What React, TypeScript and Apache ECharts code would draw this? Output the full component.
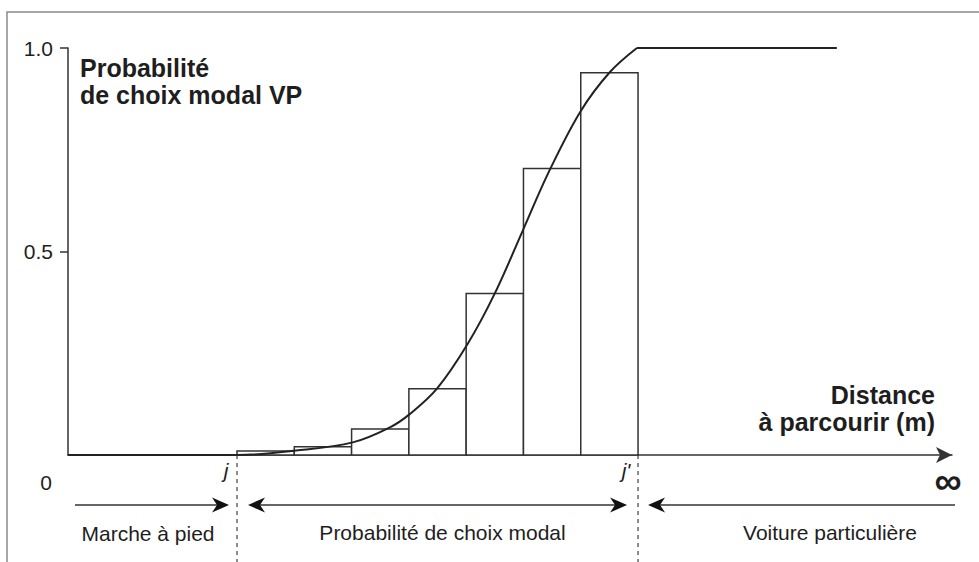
import React, { useEffect, useRef } from "react";
import * as echarts from "echarts";

// ---- data ----
const X_MAX = 15.43; // distance axis extent (arbitrary units, ∞ at the end)
const J = 2.95; // threshold j
const J_PRIME = 9.95; // threshold j'
const BIN_WIDTH = 1;
const barValues = [0.01, 0.02, 0.064, 0.163, 0.397, 0.704, 0.939];
const curveX = [0, 2.95, 3.98, 4.97, 5.62, 5.97, 6.44, 6.98, 7.45, 7.94, 8.38, 8.94, 9.46, 9.93];
const curveY = [0, 0, 0.011, 0.031, 0.068, 0.101, 0.163, 0.274, 0.397, 0.552, 0.692, 0.843, 0.941, 1.0];
const plateauX = [9.93, 13.42];
const plateauY = [1, 1];
const yTickValues = [0.5, 1.0];
const yTickLabels = ["0.5", "1.0"];
const zoneLabels = ["Marche à pied", "Probabilité de choix modal", "Voiture particulière"];
const yTitle = ["Probabilité", "de choix modal VP"];
const xTitle = ["Distance", "à parcourir (m)"];

const FONT = '"Liberation Sans", Arial, Helvetica, sans-serif';
const INK = "#1e1e1e";

export default function App() {
  const ref = useRef<HTMLDivElement>(null);

  useEffect(() => {
    document.body.style.margin = "0";
    if (!ref.current) return;
    const chart = echarts.init(ref.current, undefined, { renderer: "svg" });

    const bars = barValues.map((v, i) => [J + i * BIN_WIDTH, J + (i + 1) * BIN_WIDTH, v]);

    chart.setOption({
      animation: false,
      grid: { left: 68, right: 27, top: 48, bottom: 107, containLabel: false },
      xAxis: {
        type: "value",
        min: 0,
        max: X_MAX,
        axisLine: {
          show: true,
          symbol: ["none", "arrow"],
          symbolSize: [12, 16],
          lineStyle: { color: "#333", width: 1.5 },
        },
        axisTick: { show: false },
        axisLabel: { show: false },
        splitLine: { show: false },
      },
      yAxis: {
        type: "value",
        min: 0,
        max: 1,
        interval: 0.5,
        axisLine: { show: true, lineStyle: { color: "#333", width: 1.5 } },
        axisTick: {
          show: true,
          length: 8,
          customValues: yTickValues,
          lineStyle: { color: "#333", width: 1.5 },
        },
        axisLabel: {
          show: true,
          customValues: yTickValues,
          margin: 15,
          fontSize: 21,
          fontFamily: FONT,
          color: INK,
          formatter: (v: number) => {
            const i = yTickValues.findIndex((t) => Math.abs(t - v) < 1e-9);
            return i >= 0 ? yTickLabels[i] : "";
          },
        },
        splitLine: { show: false },
      },
      series: [
        {
          type: "custom",
          data: bars,
          encode: { x: [0, 1], y: 2 },
          z: 2,
          renderItem: (params: any, api: any) => {
            const x0 = api.value(0);
            const x1 = api.value(1);
            const v = api.value(2);
            const p0 = api.coord([x0, v]);
            const p1 = api.coord([x1, 0]);
            return {
              type: "rect",
              shape: { x: p0[0], y: p0[1], width: p1[0] - p0[0], height: p1[1] - p0[1] },
              style: { fill: "#fff", stroke: "#333", lineWidth: 1.5 },
            };
          },
        },
        {
          type: "line",
          data: curveX.map((x, i) => [x, curveY[i]]),
          smooth: 0.35,
          showSymbol: false,
          z: 3,
          lineStyle: { color: "#222", width: 2 },
        },
        {
          type: "line",
          data: plateauX.map((x, i) => [x, plateauY[i]]),
          showSymbol: false,
          z: 3,
          lineStyle: { color: "#222", width: 2 },
        },
      ],
    });

    const toPx = (x: number, y: number) => chart.convertToPixel({ gridIndex: 0 }, [x, y]) as number[];
    const origin = toPx(0, 0);
    const jPx = toPx(J, 0)[0];
    const jpPx = toPx(J_PRIME, 0)[0];
    const endPx = toPx(X_MAX, 0)[0];
    const axisY = origin[1];
    const arrowY = axisY + 50;
    const lineStyle = { stroke: "#333", lineWidth: 1.5 };

    const head = (tip: number, y: number, dir: 1 | -1) => ({
      type: "polygon",
      shape: {
        points: [
          [tip, y],
          [tip - dir * 17, y - 7.5],
          [tip - dir * 12, y],
          [tip - dir * 17, y + 7.5],
        ],
      },
      style: { fill: "#111", stroke: "none" },
      silent: true,
    });
    const hline = (x1: number, x2: number, y: number) => ({
      type: "line",
      shape: { x1, y1: y, x2, y2: y },
      style: lineStyle,
      silent: true,
    });
    const txt = (
      text: string,
      x: number,
      y: number,
      opts: {
        size?: number;
        weight?: string;
        align?: string;
        style?: string;
        vAlign?: string;
        lineHeight?: number;
      } = {}
    ) => ({
      type: "text",
      x,
      y,
      silent: true,
      style: {
        text,
        fill: INK,
        fontSize: opts.size ?? 21,
        fontWeight: opts.weight ?? "normal",
        fontStyle: opts.style ?? "normal",
        fontFamily: FONT,
        align: opts.align ?? "center",
        verticalAlign: opts.vAlign ?? "middle",
        lineHeight: opts.lineHeight,
      },
    });

    chart.setOption({
      graphic: [
        {
          type: "rect",
          shape: { x: 7, y: 12, width: 1200, height: 800 },
          style: { fill: "none", stroke: "#8a8a8a", lineWidth: 1.5 },
          silent: true,
        },
        {
          type: "line",
          shape: { x1: jPx, y1: axisY, x2: jPx, y2: 570 },
          style: { stroke: "#666", lineWidth: 1.5, lineDash: [4, 4] },
          silent: true,
        },
        {
          type: "line",
          shape: { x1: jpPx, y1: axisY, x2: jpPx, y2: 570 },
          style: { stroke: "#666", lineWidth: 1.5, lineDash: [4, 4] },
          silent: true,
        },
        hline(origin[0] + 7, jPx - 12, arrowY),
        head(jPx - 8, arrowY, 1),
        hline(jPx + 15, jpPx - 15, arrowY),
        head(jPx + 11, arrowY, -1),
        head(jpPx - 11, arrowY, 1),
        hline(jpPx + 14, endPx + 3, arrowY),
        head(jpPx + 10, arrowY, -1),
        txt(zoneLabels[0], 148, arrowY + 28),
        txt(zoneLabels[1], (jPx + jpPx) / 2 + 5, arrowY + 27),
        txt(zoneLabels[2], 830, arrowY + 27),
        txt("0", origin[0] - 22, axisY + 27),
        txt("j", jPx - 11, axisY + 15, { style: "italic" }),
        txt("j'", jpPx - 12, axisY + 15, { style: "italic" }),
        txt("∞", endPx - 4, axisY + 26, { size: 38, weight: "bold" }),
        txt(yTitle.join("\n"), origin[0] + 12, 54, {
          size: 25,
          weight: "bold",
          align: "left",
          vAlign: "top",
          lineHeight: 27,
        }),
        txt(xTitle.join("\n"), 935, 381.5, {
          size: 25,
          weight: "bold",
          align: "right",
          vAlign: "top",
          lineHeight: 27,
        }),
      ],
    });

    return () => chart.dispose();
  }, []);

  return <div ref={ref} style={{ width: 979, height: 562 }} />;
}
